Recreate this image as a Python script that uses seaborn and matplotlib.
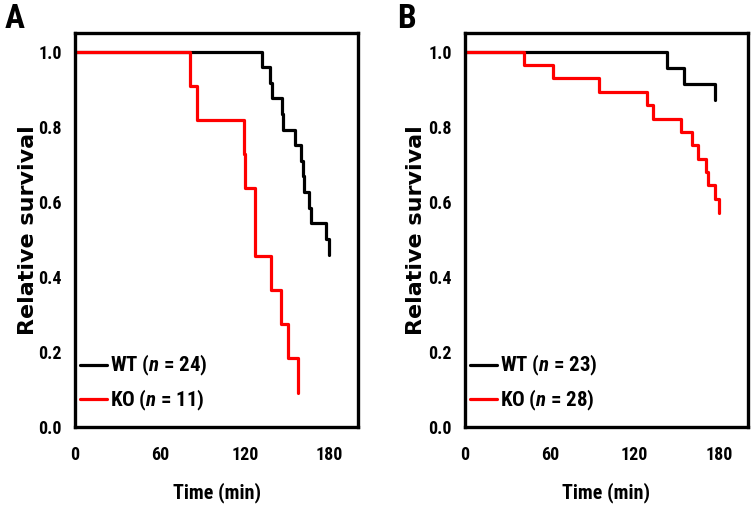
import numpy as np
import pandas as pd
import matplotlib
matplotlib.use("Agg")
import matplotlib.pyplot as plt
from matplotlib.lines import Line2D
from matplotlib import font_manager
import seaborn as sns

# Kaplan-Meier style survival steps
wt_a_time = [0, 132.3, 137.7, 139.4, 146, 147.2, 155.4, 160, 161, 162, 165.4, 167, 177.7, 179.5]
wt_a_surv = [1.0, 0.958, 0.917, 0.875, 0.833, 0.792, 0.75, 0.708, 0.667, 0.625, 0.583, 0.542, 0.5, 0.458]
ko_a_time = [0, 81.5, 86.2, 119.3, 120, 127.3, 138.2, 145.3, 150.5, 157.6]
ko_a_surv = [1.0, 0.909, 0.818, 0.727, 0.636, 0.455, 0.364, 0.273, 0.182, 0.091]

wt_b_time = [0, 142.7, 155, 176.9]
wt_b_surv = [1.0, 0.957, 0.913, 0.870]
ko_b_time = [0, 42, 62, 95, 128.6, 133.3, 152.9, 160.9, 164.7, 170.6, 171.7, 176.7, 180]
ko_b_surv = [1.0, 0.964, 0.929, 0.893, 0.857, 0.821, 0.786, 0.75, 0.714, 0.679, 0.643, 0.607, 0.571]

labels_a = ["WT ($n$ = 24)", "KO ($n$ = 11)"]
labels_b = ["WT ($n$ = 23)", "KO ($n$ = 28)"]
x_ticks = [0, 60, 120, 180]
y_ticks = [0.0, 0.2, 0.4, 0.6, 0.8, 1.0]

sns.set_style("white")

# pick the narrowest installed sans family
installed = {f.name for f in font_manager.fontManager.ttflist}
narrow_font = next((f for f in ["Liberation Sans Narrow", "Roboto Condensed",
                                "DejaVu Sans Condensed", "Liberation Sans"] if f in installed),
                   "DejaVu Sans")
plt.rcParams["font.family"] = [narrow_font, "DejaVu Sans"]
plt.rcParams["font.weight"] = "bold"
plt.rcParams["text.color"] = "black"
plt.rcParams["xtick.color"] = "black"
plt.rcParams["ytick.color"] = "black"
plt.rcParams["axes.labelcolor"] = "black"
plt.rcParams["mathtext.fontset"] = "custom"
plt.rcParams["mathtext.it"] = f"{narrow_font}:italic:bold"
plt.rcParams["mathtext.rm"] = f"{narrow_font}:bold"

palette = {"WT": "black", "KO": "red"}


def make_df(wt_t, wt_s, ko_t, ko_s):
    return pd.concat([
        pd.DataFrame({"time": wt_t, "surv": wt_s, "group": "WT"}),
        pd.DataFrame({"time": ko_t, "surv": ko_s, "group": "KO"}),
    ], ignore_index=True)


fig = plt.figure(figsize=(7.54, 5.21), dpi=100)
ax_a = fig.add_axes([0.0995, 0.181, 0.3753, 0.756])
ax_b = fig.add_axes([0.6167, 0.181, 0.3750, 0.756])

panels = [
    (ax_a, make_df(wt_a_time, wt_a_surv, ko_a_time, ko_a_surv), labels_a, "A", 0.006, -0.13),
    (ax_b, make_df(wt_b_time, wt_b_surv, ko_b_time, ko_b_surv), labels_b, "B", 0.527, -0.137),
]

for ax, df, labels, tag, tag_x, ylab_x in panels:
    sns.lineplot(data=df, x="time", y="surv", hue="group", hue_order=["WT", "KO"],
                 palette=palette, estimator=None, sort=False, drawstyle="steps-post",
                 linewidth=2.3, legend=False, ax=ax)
    ax.set_xlim(0, 200)
    ax.set_ylim(0, 1.05)
    ax.set_xticks(x_ticks)
    ax.set_yticks(y_ticks)
    ax.set_yticklabels([f"{v:.1f}" for v in y_ticks])
    ax.tick_params(axis="x", direction="out", length=8, width=2, pad=6, labelsize=13)
    ax.tick_params(axis="y", direction="out", length=5.5, width=2, pad=4, labelsize=13)
    for s in ax.spines.values():
        s.set_linewidth(2.4)
        s.set_color("black")
    ax.set_xlabel("Time (min)", fontsize=14.5, fontweight="bold", labelpad=13)
    ax.set_ylabel("Relative survival", fontsize=16, fontweight="bold",
                  family=["DejaVu Sans"])
    ax.yaxis.set_label_coords(ylab_x, 0.5)

    handles = [Line2D([], [], color="black", lw=2.3), Line2D([], [], color="red", lw=2.3)]
    ax.legend(handles, labels, loc="lower left", bbox_to_anchor=(0.018, 0.035),
              frameon=False, fontsize=15, handlelength=1.3, handletextpad=0.15,
              labelspacing=0.45, borderpad=0, borderaxespad=0)
    fig.text(tag_x, 0.995, tag, fontsize=24, fontweight="bold", va="top", ha="left")

fig.savefig("out.png", dpi=100)
